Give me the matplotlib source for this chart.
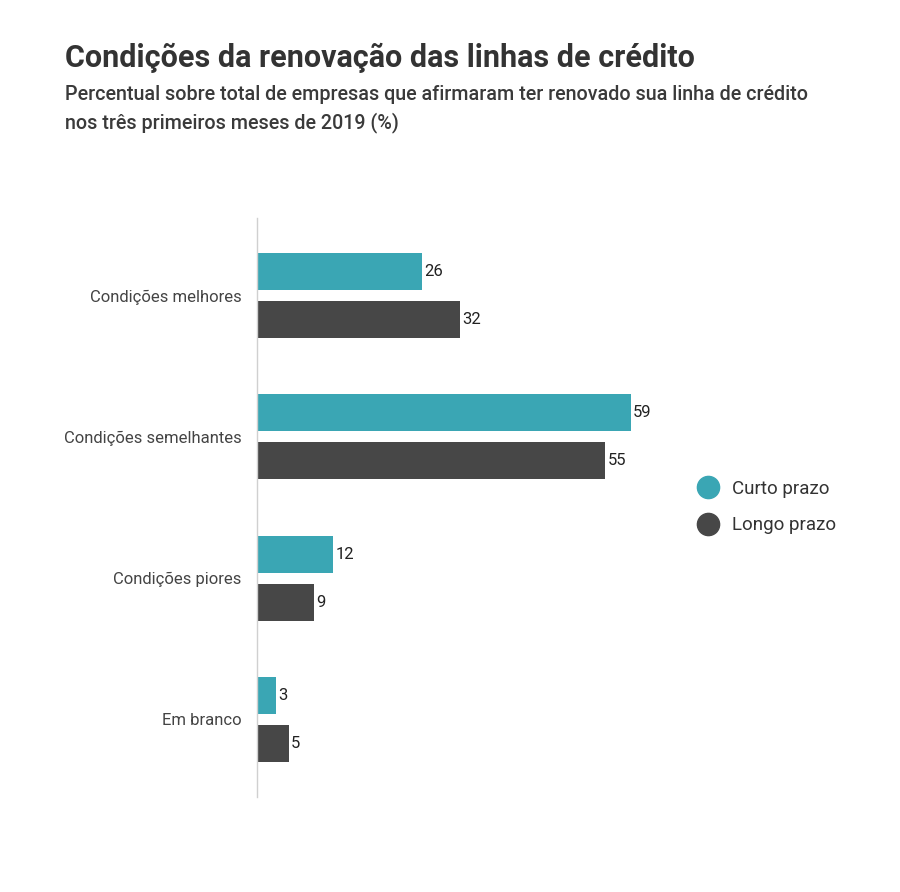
import numpy as np
import matplotlib.pyplot as plt
from matplotlib.lines import Line2D

plt.rcParams["font.family"] = ["Roboto", "DejaVu Sans"]

categories = ["Condições melhores", "Condições semelhantes", "Condições piores", "Em branco"]
curto = [26, 59, 12, 3]
longo = [32, 55, 9, 5]
series_names = ["Curto prazo", "Longo prazo"]

TEAL = "#3aa6b4"
DARK = "#474747"

fig = plt.figure(figsize=(9, 8.92), dpi=100)
ax = fig.add_axes([257 / 900, 1 - 797 / 892, 380 / 900, (797 - 218) / 892])

y = np.arange(len(categories))
h = 0.262
off = 0.17
b1 = ax.barh(y - off, curto, height=h, color=TEAL)
b2 = ax.barh(y + off, longo, height=h, color=DARK)

for bars, vals in ((b1, curto), (b2, longo)):
    for bar, v in zip(bars, vals):
        ax.text(bar.get_width() + 0.4, bar.get_y() + bar.get_height() / 2, str(v),
                va="center", ha="left", fontsize=12, color="#222222")

ax.set_xlim(0, 60)
ax.set_ylim(len(categories) - 0.45, -0.55)
ax.set_yticks(y)
ax.set_yticklabels(categories, fontsize=12, color="#444444")
ax.tick_params(axis="y", length=0, pad=11)
ax.set_xticks([])
for s in ["top", "right", "bottom"]:
    ax.spines[s].set_visible(False)
ax.spines["left"].set_color("#d0d0d0")
ax.spines["left"].set_linewidth(1)

fig.text(65 / 900, 1 - 58 / 892, "Condições da renovação das linhas de crédito",
         fontsize=22, fontweight="bold", color="#333333", va="center", ha="left")
fig.text(65 / 900, 1 - 95 / 892,
         "Percentual sobre total de empresas que afirmaram ter renovado sua linha de crédito",
         fontsize=14.2, fontweight="medium", color="#3a3a3a", va="center", ha="left")
fig.text(65 / 900, 1 - 123 / 892, "nos três primeiros meses de 2019 (%)",
         fontsize=14.2, fontweight="medium", color="#3a3a3a", va="center", ha="left")

handles = [Line2D([], [], marker="o", ls="", ms=16, color=c) for c in (TEAL, DARK)]
fig.legend(handles, series_names, loc="center left", bbox_to_anchor=(672 / 900, 1 - 507 / 892),
           frameon=False, fontsize=13.5, handletextpad=0.3, labelspacing=1.0,
           labelcolor="#333333")

fig.savefig("out.png", dpi=100, facecolor="white")
